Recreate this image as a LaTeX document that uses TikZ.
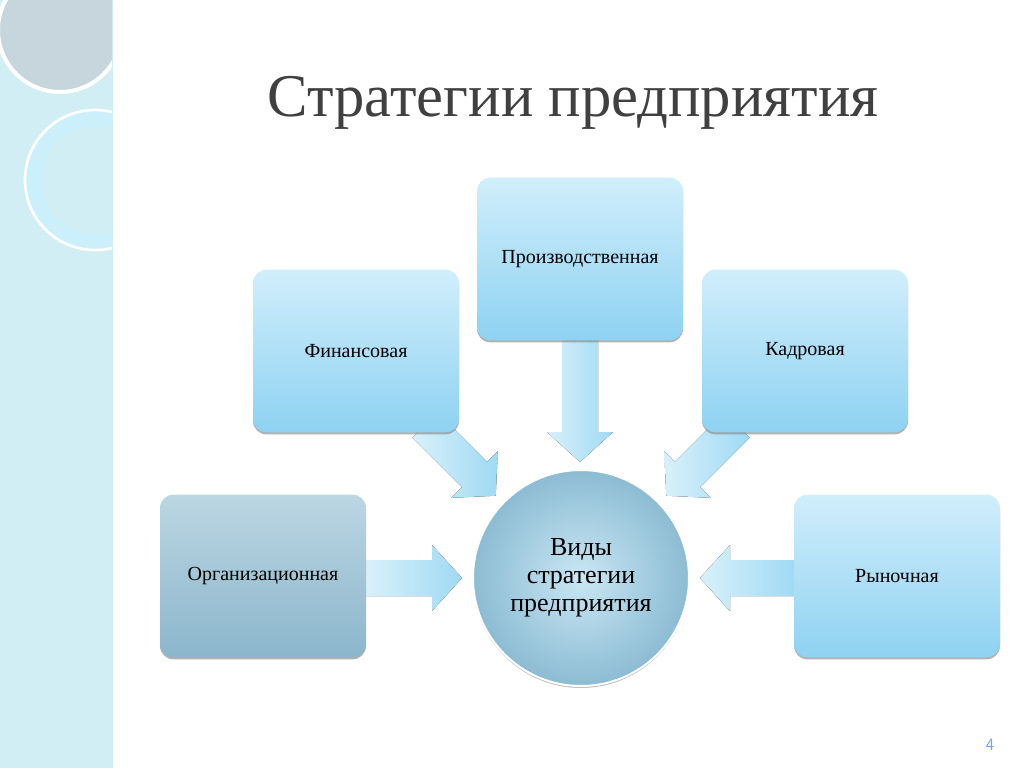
\documentclass[tikz,border=0pt]{standalone}
\usepackage{fontspec}
\setmainfont{Liberation Serif}
\usetikzlibrary{shadows}
\definecolor{strip}{HTML}{D2EEF5}
\definecolor{boxtop}{HTML}{D0EEFB}
\definecolor{boxbot}{HTML}{8ED2F2}
\definecolor{orgtop}{HTML}{BCD6E3}
\definecolor{orgbot}{HTML}{8BB6CB}
\definecolor{arrowc}{HTML}{9FDAF3}
\definecolor{titlec}{HTML}{404040}
\tikzset{
  box/.style={rounded corners=10pt, minimum width=154.5pt, minimum height=122pt,
    top color=boxtop, bottom color=boxbot, font=\fontsize{15}{17}\selectfont,
    drop shadow={shadow xshift=0pt, shadow yshift=-1.5pt, opacity=0.6}},
  orgbox/.style={box, top color=orgtop, bottom color=orgbot},
  barrow/.style={left color=arrowc!40, right color=arrowc, draw=none}
}
\newcommand{\blockarr}[1]{% length #1 (px), pointing +x, origin at tail centre
  \fill[barrow] (0,-18) -- (#1-30,-18) -- (#1-30,-33) -- (#1,0) -- (#1-30,33) -- (#1-30,18) -- (0,18) -- cycle;}
\begin{document}
\begin{tikzpicture}[x=0.75pt,y=-0.75pt]
\useasboundingbox (0,0) rectangle (1024,768);
\fill[white] (0,0) rectangle (1024,768);
\fill[strip] (0,0) rectangle (112,768);
\draw[white!80!cyan, line width=1pt] (112,0) -- (112,768);
\begin{scope}
\clip (0,0) rectangle (112,768);
\fill[white!85!cyan!70!gray] (60,30) circle (62);
\draw[white, line width=3pt] (60,30) circle (62);
\draw[cyan!20!white, line width=12pt] (95,180) circle (62);
\draw[white, line width=2pt] (95,180) circle (70);
\end{scope}
\node[text=titlec, font=\fontsize{45.5}{50}\selectfont] (title) at (573,103) {Стратегии предприятия};
% arrows
\begin{scope}[shift={(580,340)}, rotate=-90]\blockarr{122}\end{scope}
\begin{scope}[shift={(366,578)}]\blockarr{96}\end{scope}
\begin{scope}[shift={(795,578)}, rotate=180]\blockarr{95}\end{scope}
\begin{scope}[shift={(425,425)}, rotate=-45]\blockarr{100}\end{scope}
\begin{scope}[shift={(737,425)}, rotate=-135]\blockarr{100}\end{scope}
% boxes
\node[box] (prod) at (580,259) {Производственная};
\node[box] (fin) at (356,351) {Финансовая};
\node[box] (kadr) at (805,351) {Кадровая};
\node[orgbox] (org) at (263,576) {Организационная};
\node[box] (ryn) at (897,576) {Рыночная};
\node[circle, minimum size=162pt, inner color=boxtop!70!orgtop, outer color=orgbot!80!boxbot,
  draw=white, line width=1.5pt, align=center, font=\fontsize{19.5}{21}\selectfont,
  drop shadow={shadow xshift=0pt, shadow yshift=-1.5pt, opacity=0.5}] (c) at (581,578)
  {Виды\\стратегии\\предприятия};
\node[text=boxbot!80!blue, font=\sffamily\fontsize{13}{15}\selectfont] (num) at (990,745) {4};
\end{tikzpicture}
\end{document}
